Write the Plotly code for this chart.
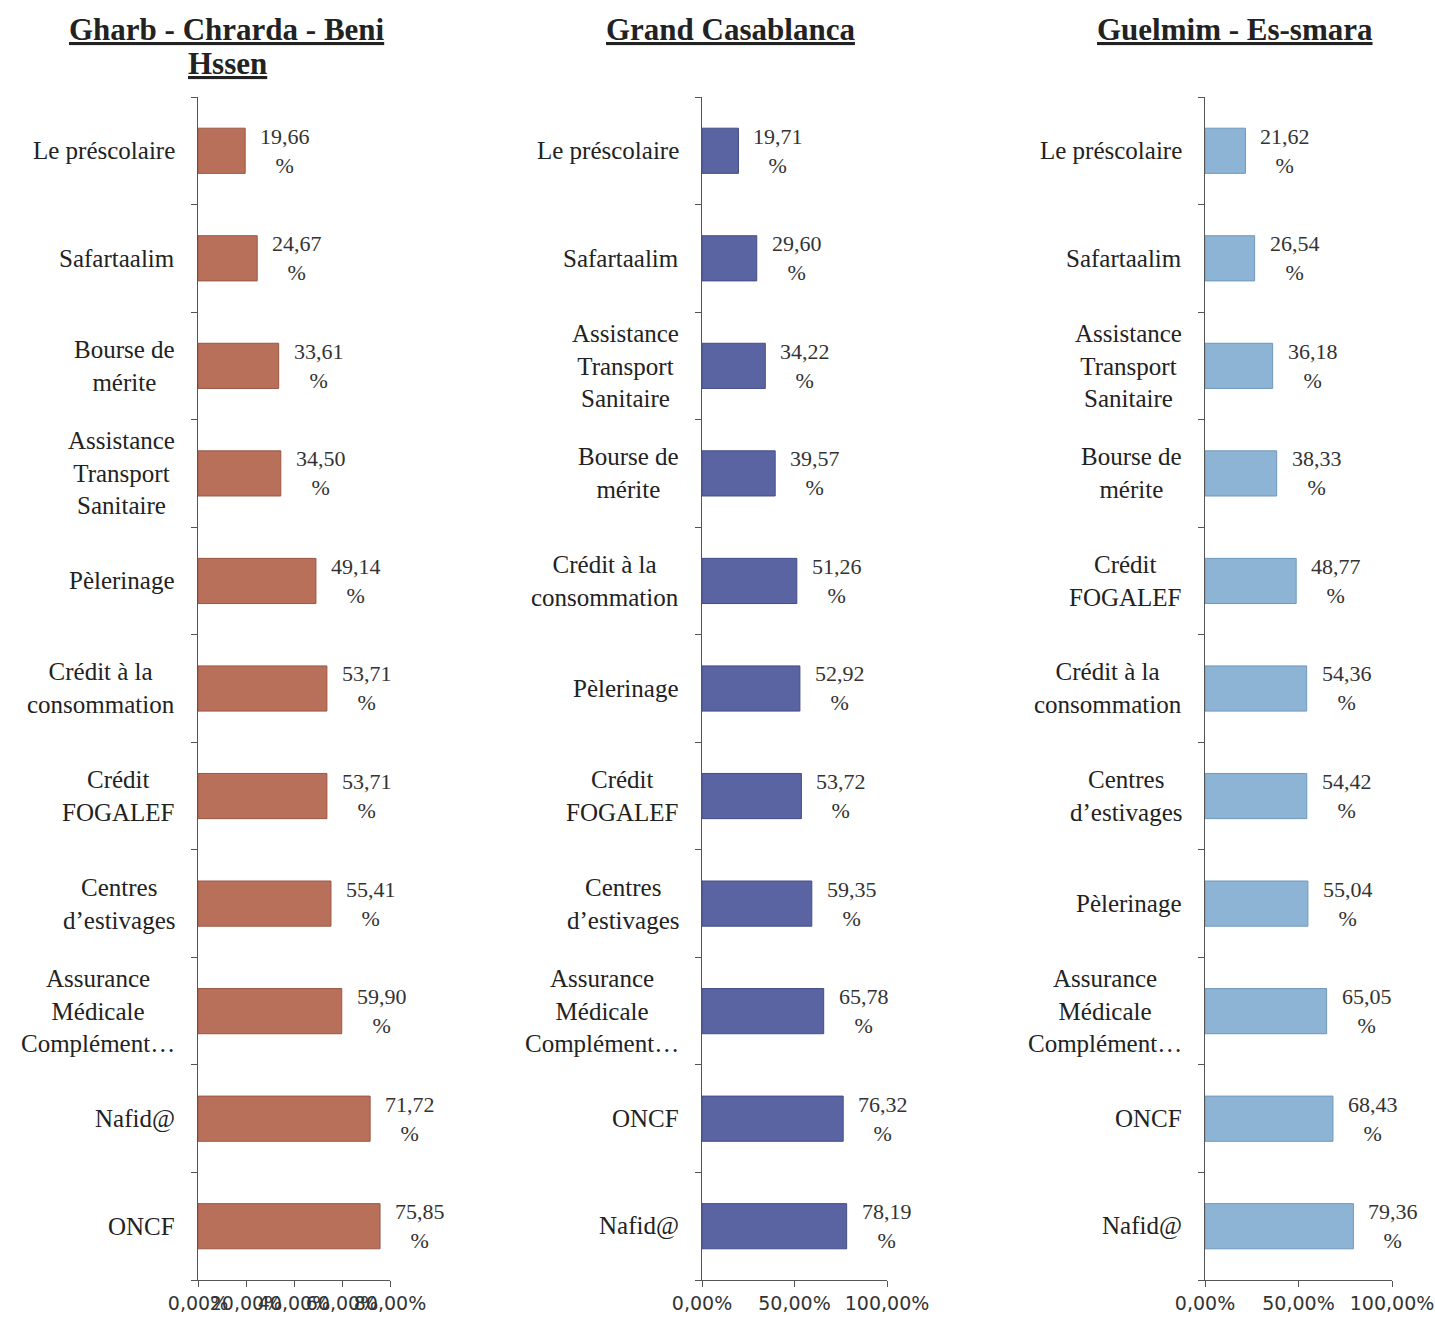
import plotly.graph_objects as go
from plotly.subplots import make_subplots

W, H = 1435, 1325

titles = ["Gharb - Chrarda - Beni<br>Hssen", "Grand Casablanca", "Guelmim - Es-smara"]

cats_gharb = ["Le préscolaire", "Safartaalim", "Bourse de<br>mérite",
              "Assistance<br>Transport<br>Sanitaire", "Pèlerinage",
              "Crédit à la<br>consommation", "Crédit<br>FOGALEF",
              "Centres<br>d’estivages", "Assurance<br>Médicale<br>Complément…",
              "Nafid@", "ONCF"]
vals_gharb = [19.66, 24.67, 33.61, 34.50, 49.14, 53.71, 53.71, 55.41, 59.90, 71.72, 75.85]

cats_casa = ["Le préscolaire", "Safartaalim", "Assistance<br>Transport<br>Sanitaire",
             "Bourse de<br>mérite", "Crédit à la<br>consommation", "Pèlerinage",
             "Crédit<br>FOGALEF", "Centres<br>d’estivages",
             "Assurance<br>Médicale<br>Complément…", "ONCF", "Nafid@"]
vals_casa = [19.71, 29.60, 34.22, 39.57, 51.26, 52.92, 53.72, 59.35, 65.78, 76.32, 78.19]

cats_guelmim = ["Le préscolaire", "Safartaalim", "Assistance<br>Transport<br>Sanitaire",
                "Bourse de<br>mérite", "Crédit<br>FOGALEF", "Crédit à la<br>consommation",
                "Centres<br>d’estivages", "Pèlerinage",
                "Assurance<br>Médicale<br>Complément…", "ONCF", "Nafid@"]
vals_guelmim = [21.62, 26.54, 36.18, 38.33, 48.77, 54.36, 54.42, 55.04, 65.05, 68.43, 79.36]

# x-axis ticks per panel
ticks_gharb = [0, 20, 40, 60, 80]
ticks_other = [0, 50, 100]

colors = ["#B9705A", "#5A64A2", "#8DB4D5"]
line_colors = ["#9A5744", "#444D86", "#6F98BC"]

panels = [
    (cats_gharb, vals_gharb, ticks_gharb, (198, 390)),
    (cats_casa, vals_casa, ticks_other, (702, 887)),
    (cats_guelmim, vals_guelmim, ticks_other, (1205, 1392)),
]

SERIF = "Liberation Serif"
SANS = "DejaVu Sans"


def fx(px):
    return px / W


def fy(py):
    return 1 - py / H


fig = make_subplots(rows=1, cols=3)
y_top, y_bot = 97, 1280

for i, (cats, vals, ticks, (x0, x1)) in enumerate(panels):
    col = i + 1
    n = len(cats)
    ids = list(range(n))
    fig.add_trace(go.Bar(
        x=vals, y=ids, orientation="h", width=0.42,
        marker=dict(color=colors[i], line=dict(color=line_colors[i], width=1)),
        showlegend=False, hoverinfo="skip",
    ), row=1, col=col)

    xa = "xaxis" if col == 1 else f"xaxis{col}"
    ya = "yaxis" if col == 1 else f"yaxis{col}"
    fig.layout[xa].update(
        domain=[fx(x0), fx(x1)], range=[0, ticks[-1]],
        tickvals=ticks, ticktext=[f"{t:.2f}".replace(".", ",") + "%" for t in ticks],
        tickangle=0, ticklabeloverflow="allow", automargin=False,
        showline=True, linecolor="#555", linewidth=1, ticks="outside", ticklen=6,
        tickcolor="#555", showgrid=False, zeroline=False,
        tickfont=dict(family=SANS, size=19, color="#333"),
    )
    fig.layout[ya].update(
        domain=[fy(y_bot), fy(y_top)], range=[n - 0.5, -0.5],
        tickvals=[k + 0.5 for k in range(-1, n)], showticklabels=False, automargin=False,
        showline=True, linecolor="#555", linewidth=1, ticks="outside", ticklen=6,
        tickcolor="#555", showgrid=False, zeroline=False,
    )

    xref = "x" if col == 1 else f"x{col}"
    yref = "y" if col == 1 else f"y{col}"
    for k, (c, v) in enumerate(zip(cats, vals)):
        fig.add_annotation(
            x=0, y=k, xref=f"{xref} domain", yref=yref, text=c,
            xanchor="right", yanchor="middle", align="center", xshift=-21,
            showarrow=False, font=dict(family=SERIF, size=25, color="#222"),
        )
        fig.add_annotation(
            x=v, y=k, xref=xref, yref=yref,
            text=f"{v:.2f}".replace(".", ",") + "<br>%",
            xanchor="left", yanchor="middle", align="center", xshift=13,
            showarrow=False, font=dict(family=SERIF, size=22, color="#333"),
        )

# titles: one annotation per line so the line spacing can follow the reference
title_x = [227, 730, 1235]
line_y = [30, 63]
for t, tx in zip(titles, title_x):
    for line, ly in zip(t.split("<br>"), line_y):
        fig.add_annotation(
            x=fx(tx), y=fy(ly), xref="paper", yref="paper",
            text=f"<b><u>{line}</u></b>",
            xanchor="center", yanchor="middle", align="center", showarrow=False,
            font=dict(family=SERIF, size=31, color="#222"),
        )

fig.update_layout(
    width=W, height=H, autosize=False,
    margin=dict(l=0, r=0, t=0, b=0, pad=0),
    plot_bgcolor="white", paper_bgcolor="white", bargap=0.5,
)

# drop the default page margin so the figure fills the window exactly
fig.write_html("out.html", config={"displayModeBar": False},
               post_script="document.body.style.margin='0';"
                           "document.body.style.overflow='hidden';")
